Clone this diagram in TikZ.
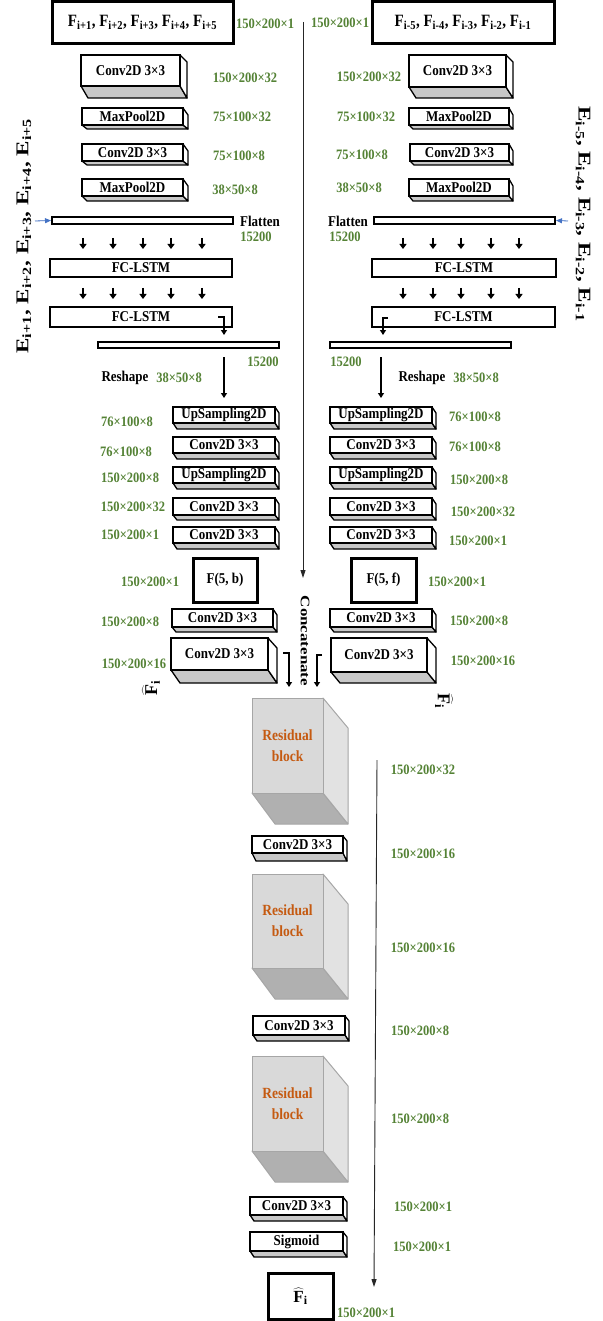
\documentclass[tikz,border=0pt]{standalone}
\usepackage{fontspec}
\setmainfont{Liberation Serif}
\usetikzlibrary{arrows.meta}
\definecolor{dimgreen}{HTML}{548235}
\definecolor{resorange}{HTML}{C55A11}
\definecolor{flowblue}{HTML}{4472C4}
\definecolor{resfront}{HTML}{D9D9D9}
\definecolor{resside}{HTML}{E2E2E2}
\definecolor{resbottom}{HTML}{B0B0B0}
\definecolor{resline}{HTML}{A6A6A6}
\definecolor{slabgray}{HTML}{C8C8C8}

\tikzset{
  lbl/.style={font=\fontsize{13}{15}\selectfont\bfseries},
  plain/.style={lbl, inner sep=0pt, yscale=1.15},
  face/.style={lbl, draw=black, line width=1.3pt, fill=white, inner sep=0pt},
  edge/.style={draw=black, line width=1.3pt, line join=round},
  dim/.style={text=dimgreen, font=\fontsize{12.5}{14}\selectfont\bfseries, inner sep=0pt, yscale=1.15},
  framebox/.style={lbl, draw=black, line width=3pt, fill=white, inner sep=0pt},
  bar/.style={draw=black, line width=2pt, fill=white, inner sep=0pt},
  lstmbox/.style={lbl, draw=black, line width=1.5pt, fill=white, inner sep=0pt},
  tinyarrow/.style={line width=1.7pt, -{Triangle[width=7pt,length=5pt]}},
  bentarrow/.style={line width=2.2pt, -{Triangle[width=6pt,length=5pt]}},
  longarrow/.style={line width=0.9pt, draw=black!85, -{Triangle[width=5pt,length=8pt]}},
  bluearrow/.style={line width=0.8pt, draw=flowblue, fill=flowblue, -{Triangle[width=5pt,length=6pt]}},
  resface/.style={draw=resline, line width=1pt, fill=resfront, inner sep=0pt, text=resorange, align=center, font=\fontsize{13.5}{21}\selectfont\bfseries},
  reslines/.style={draw=resline, line width=1pt, line join=round},
  elabel/.style={font=\fontsize{18}{20}\selectfont\bfseries, inner sep=0pt},
  hatlabel/.style={font=\fontsize{18}{20}\selectfont\bfseries, inner sep=0pt},
}

% text set slightly taller than wide, as in the layer captions
\newcommand{\vst}[1]{\scalebox{1}[1.15]{#1}}

% rectangle node given by its corners: style, name, x1, y1, x2, y2, text
\newcommand{\rectnode}[7]{%
  \node[#1, minimum width={(#5-#3)*1pt}, minimum height={(#6-#4)*1pt}] (#2) at ({(#3+#5)/2},{(#4+#6)/2}) {#7};}

% layer drawn as a slab: name, x1, y1, x2, y2, depth x, depth y, top slant, text
\newcommand{\layer}[9]{%
  \filldraw[edge, fill=slabgray] (#2,#5) -- (#4,#5) -- ({#4+#6},{#5+#7}) -- ({#2+#6},{#5+#7}) -- cycle;
  \filldraw[edge, fill=white] (#4,#3) -- ({#4+#6},{#3+#8}) -- ({#4+#6},{#5+#7}) -- (#4,#5) -- cycle;
  \rectnode{face}{#1}{#2}{#3}{#4}{#5}{\vst{#9}}}

% residual block drawn as a grey cube: name, x1, y1, x2, y2
\newcommand{\resblock}[5]{%
  \filldraw[reslines, fill=resbottom] (#2,#5) -- (#4,#5) -- ({#4+25},{#5+31}) -- ({#2+23},{#5+31}) -- cycle;
  \filldraw[reslines, fill=resside] (#4,#3) -- ({#4+25},{#3+30}) -- ({#4+25},{#5+31}) -- (#4,#5) -- cycle;
  \rectnode{resface}{#1}{#2}{#3}{#4}{#5}{\vst{Residual}\\\vst{block}}}

\begin{document}
\begin{tikzpicture}[x=1pt,y=-1pt]
\useasboundingbox (0,0) rectangle (602,1321);

% ---------- inputs ----------
\rectnode{framebox, font=\fontsize{15}{17}\selectfont\bfseries}{inB}{52}{1.5}{233}{44}{\vst{F\textsubscript{i+1}, F\textsubscript{i+2}, F\textsubscript{i+3}, F\textsubscript{i+4}, F\textsubscript{i+5}}}
\rectnode{framebox, font=\fontsize{15}{17}\selectfont\bfseries}{inF}{372}{1.5}{554}{44}{\vst{F\textsubscript{i-5}, F\textsubscript{i-4}, F\textsubscript{i-3}, F\textsubscript{i-2}, F\textsubscript{i-1}}}
\node[dim] (dInB) at (265,24) {150×200×1};
\node[dim] (dInF) at (340,23) {150×200×1};

% skip path to the concatenation
\coordinate (skipTop) at (303,22);
\coordinate (skipEnd) at (303,578);
\draw[longarrow] (skipTop) -- (skipEnd);

% ---------- encoders ----------
\layer{encB1}{81}{55}{180}{86}{7}{12}{7}{Conv2D 3×3}
\layer{encB2}{82}{108}{183}{125}{5}{4}{7}{MaxPool2D}
\layer{encB3}{82}{144}{183}{161}{5}{4}{7}{Conv2D 3×3}
\layer{encB4}{82}{179}{183}{196}{5}{5}{7}{MaxPool2D}
\node[dim] at (245,78) {150×200×32};
\node[dim] at (242,117) {75×100×32};
\node[dim] at (239,156) {75×100×8};
\node[dim] at (235,190) {38×50×8};

\layer{encF1}{409}{55}{506}{87}{7}{11}{7}{Conv2D 3×3}
\layer{encF2}{409}{108}{509}{125}{4}{4}{7}{MaxPool2D}
\layer{encF3}{410}{144}{509}{161}{4}{4}{7}{Conv2D 3×3}
\layer{encF4}{409}{179}{509}{196}{4}{5}{7}{MaxPool2D}
\node[dim] at (369,77) {150×200×32};
\node[dim] at (366,117) {75×100×32};
\node[dim] at (362,155) {75×100×8};
\node[dim] at (359,188) {38×50×8};

% ---------- flatten and recurrent part ----------
\rectnode{bar}{flatB}{52}{217}{233}{224}{}
\rectnode{bar}{flatF}{374}{217}{555}{224}{}
\node[plain] at (260,221) {Flatten};
\node[dim] at (256,237) {15200};
\node[plain] at (348,221) {Flatten};
\node[dim] at (345,237) {15200};

\node[elabel, rotate=90, xscale=1.28] (eB) at (24,236) {E\textsubscript{i+1}, E\textsubscript{i+2}, E\textsubscript{i+3}, E\textsubscript{i+4}, E\textsubscript{i+5}};
\node[elabel, rotate=-90, xscale=1.28] (eF) at (583,214) {E\textsubscript{i-5}, E\textsubscript{i-4}, E\textsubscript{i-3}, E\textsubscript{i-2}, E\textsubscript{i-1}};
\coordinate (eBtip) at (35,221);
\coordinate (eFtip) at (568,221);
\draw[bluearrow] (eBtip) -- (flatB.west);
\draw[bluearrow] (eFtip) -- (flatF.east);

\rectnode{lstmbox}{lstmB1}{50}{259}{232}{277}{\vst{FC-LSTM}}
\rectnode{lstmbox}{lstmB2}{50}{307}{232}{327}{\vst{FC-LSTM}}
\rectnode{lstmbox}{lstmF1}{372}{259}{556}{277}{\vst{FC-LSTM}}
\rectnode{lstmbox}{lstmF2}{372}{307}{555}{327}{\vst{FC-LSTM}}

\foreach \x in {83,113,143,171,202} {
  \draw[tinyarrow] (\x,238) -- (\x,249);
  \draw[tinyarrow] (\x,288) -- (\x,299);
}
\foreach \x in {403,433,461,491,519} {
  \draw[tinyarrow] (\x,238) -- (\x,249);
  \draw[tinyarrow] (\x,288) -- (\x,299);
}

% ---------- reshape ----------
\rectnode{bar}{resB}{98}{342}{279}{348}{}
\rectnode{bar}{resF}{330}{342}{511}{348}{}
\draw[bentarrow] (218,317) -- (224,317) -- (224,335);
\draw[bentarrow] (388,318) -- (383,318) -- (383,335);
\node[dim] at (263,362) {15200};
\node[dim] at (346,362) {15200};
\draw[bentarrow] (224,357) -- (224,398);
\draw[bentarrow] (381,357) -- (381,398);
\node[plain] at (125,378) {Reshape};
\node[dim] at (179,378) {38×50×8};
\node[plain] at (422,378) {Reshape};
\node[dim] at (476,378) {38×50×8};

% ---------- decoders ----------
\layer{decB1}{173}{407}{275}{423}{4}{6}{6}{UpSampling2D}
\layer{decB2}{173}{437}{275}{453}{4}{6}{6}{Conv2D 3×3}
\layer{decB3}{173}{467}{275}{483}{4}{6}{6}{UpSampling2D}
\layer{decB4}{173}{498}{275}{515}{4}{5}{6}{Conv2D 3×3}
\layer{decB5}{173}{527}{275}{543}{4}{6}{6}{Conv2D 3×3}
\rectnode{framebox}{fb}{193}{558}{257}{602}{\vst{F(5, b)}}
\layer{decB6}{172}{609}{273}{627}{4}{5}{6}{Conv2D 3×3}
\layer{decB7}{171}{638}{268}{670}{9}{13}{10}{Conv2D 3×3}
\node[dim] at (127,422) {76×100×8};
\node[dim] at (126,452) {76×100×8};
\node[dim] at (130,478) {150×200×8};
\node[dim] at (133,507) {150×200×32};
\node[dim] at (130,535) {150×200×1};
\node[dim] at (150,582) {150×200×1};
\node[dim] at (130,622) {150×200×8};
\node[dim] at (134,664) {150×200×16};

\layer{decF1}{330}{407}{432}{423}{4}{6}{6}{UpSampling2D}
\layer{decF2}{330}{437}{432}{453}{4}{6}{6}{Conv2D 3×3}
\layer{decF3}{330}{467}{432}{483}{4}{6}{6}{UpSampling2D}
\layer{decF4}{330}{498}{432}{515}{4}{5}{6}{Conv2D 3×3}
\layer{decF5}{330}{527}{432}{543}{4}{6}{6}{Conv2D 3×3}
\rectnode{framebox}{ff}{351}{558}{416}{602}{\vst{F(5, f)}}
\layer{decF6}{330}{609}{432}{627}{4}{5}{6}{Conv2D 3×3}
\layer{decF7}{331}{638}{427}{672}{9}{11}{10}{Conv2D 3×3}
\node[dim] at (475,417) {76×100×8};
\node[dim] at (475,447) {76×100×8};
\node[dim] at (479,480) {150×200×8};
\node[dim] at (483,512) {150×200×32};
\node[dim] at (478,541) {150×200×1};
\node[dim] at (457,582) {150×200×1};
\node[dim] at (479,621) {150×200×8};
\node[dim] at (483,661) {150×200×16};

\node[hatlabel, rotate=90] (fhatB) at (151,688) {$\widehat{\mbox{F}}$\textsubscript{i}};
\node[hatlabel, rotate=-90] (fhatF) at (444,701) {$\widehat{\mbox{F}}$\textsubscript{i}};

% ---------- concatenation ----------
\node[lbl, rotate=-90, xscale=1.3] (concat) at (305,641) {Concatenate};
\draw[bentarrow] (283,653) -- (289,653) -- (289,687);
\draw[bentarrow] (322,655) -- (317,655) -- (317,687);

% ---------- fusion network ----------
\resblock{res1}{252}{698}{323}{793}
\layer{fus1}{252}{836}{343}{853}{4}{8}{5}{Conv2D 3×3}
\resblock{res2}{252}{874}{323}{968}
\layer{fus2}{253}{1016}{345}{1035}{4}{6}{5}{Conv2D 3×3}
\resblock{res3}{252}{1056}{323}{1151}
\layer{fus3}{250}{1197}{343}{1215}{4}{6}{5}{Conv2D 3×3}
\layer{sigm}{250}{1232}{343}{1251}{4}{6}{5}{Sigmoid}
\rectnode{framebox, font=\fontsize{17}{19}\selectfont\bfseries}{out}{268}{1273}{333}{1319.5}{$\widehat{\mbox{F}}$\textsubscript{i}}

\coordinate (fusTop) at (377,760);
\coordinate (fusEnd) at (374,1287);
\draw[longarrow] (fusTop) -- (fusEnd);

\node[dim] at (423,770) {150×200×32};
\node[dim] at (423,854) {150×200×16};
\node[dim] at (423,948) {150×200×16};
\node[dim] at (420,1031) {150×200×8};
\node[dim] at (420,1119) {150×200×8};
\node[dim] at (423,1207) {150×200×1};
\node[dim] at (422,1247) {150×200×1};
\node[dim] at (366,1313) {150×200×1};
\end{tikzpicture}
\end{document}
